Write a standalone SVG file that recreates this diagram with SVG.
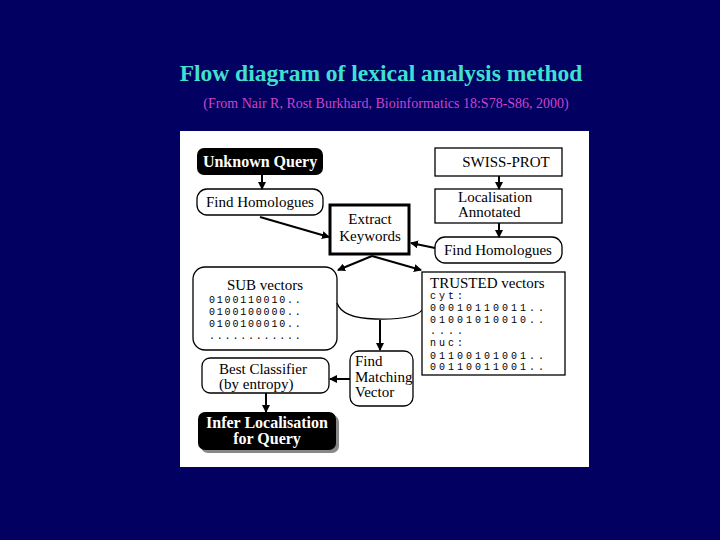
<svg xmlns="http://www.w3.org/2000/svg" width="720" height="540" viewBox="0 0 720 540">
<defs>
<marker id="ah" markerWidth="8" markerHeight="8" refX="7" refY="4" orient="auto" markerUnits="userSpaceOnUse"><path d="M0,0 L8,4 L0,8 z" fill="#000"/></marker>
<style>
.t{font-family:"Liberation Serif",serif;fill:#000;font-size:15px}
.w{font-family:"Liberation Serif",serif;fill:#fff;font-size:16px;font-weight:bold}
.m{font-family:"Liberation Mono",monospace;fill:#000;font-size:10px;letter-spacing:1.8px}
.n{font-family:"Liberation Mono",monospace;fill:#000;font-size:10px;letter-spacing:3px}
.b{fill:#fff;stroke:#000;stroke-width:1.3}
.c{stroke:#000;stroke-width:2;fill:none;marker-end:url(#ah)}
</style>
</defs>
<rect width="720" height="540" fill="#020060"/>
<text x="381" y="81" text-anchor="middle" font-family="Liberation Serif,serif" font-weight="bold" font-size="23.5" fill="#40e0d0">Flow diagram of lexical analysis method</text>
<text x="386" y="108" text-anchor="middle" font-family="Liberation Serif,serif" font-size="14" fill="#cc44cc">(From Nair R, Rost Burkhard, Bioinformatics 18:S78-S86, 2000)</text>
<rect x="180" y="131" width="409" height="336" fill="#fff"/>
<g id="unknown"><rect x="197" y="148" width="126" height="27" rx="7" fill="#000"/><text class="w" x="260" y="167" text-anchor="middle">Unknown Query</text></g>
<g id="fh1"><rect class="b" x="197" y="189" width="126" height="26" rx="10"/><text class="t" x="260" y="207" text-anchor="middle">Find Homologues</text></g>
<g id="extract"><rect x="330" y="205" width="79" height="49" fill="#fff" stroke="#000" stroke-width="3"/><text class="t" x="370" y="224" text-anchor="middle">Extract</text><text class="t" x="370" y="241" text-anchor="middle">Keywords</text></g>
<g id="swiss"><rect class="b" x="435" y="148" width="127" height="28"/><text class="t" x="506" y="167" text-anchor="middle">SWISS-PROT</text></g>
<g id="loc"><rect class="b" x="435" y="189" width="127" height="34"/><text class="t" x="458" y="202">Localisation</text><text class="t" x="458" y="217">Annotated</text></g>
<g id="fh2"><rect class="b" x="435" y="237" width="127" height="26" rx="10"/><text class="t" x="498" y="255" text-anchor="middle">Find Homologues</text></g>
<g id="sub"><rect class="b" x="193" y="267" width="144" height="83" rx="12"/><text class="t" x="265" y="290" text-anchor="middle">SUB vectors</text>
<text class="m" x="209" y="303">0100110010..</text><text class="m" x="209" y="315">0100100000..</text><text class="m" x="209" y="327">0100100010..</text><text class="m" x="209" y="339">............</text></g>
<g id="db"><path d="M337,303 Q342,318 375,319 Q415,320 422,310" class="b" fill="none"/></g>
<g id="trusted"><rect class="b" x="422" y="272" width="143" height="103"/><text class="t" x="430" y="288">TRUSTED vectors</text>
<text class="n" x="430" y="299">cyt:</text><text class="n" x="430" y="311">00010110011..</text><text class="n" x="430" y="323">01001010010..</text><text class="n" x="430" y="334">....</text><text class="n" x="430" y="346">nuc:</text><text class="n" x="430" y="359">01100101001..</text><text class="n" x="430" y="370">00110011001..</text></g>
<g id="fmv"><rect class="b" x="350" y="351" width="63" height="55" rx="9"/><text class="t" x="355" y="366">Find</text><text class="t" x="355" y="382">Matching</text><text class="t" x="355" y="397">Vector</text></g>
<g id="best"><rect class="b" x="202" y="358" width="127" height="35" rx="8"/><text class="t" x="219" y="374">Best Classifier</text><text class="t" x="219" y="389">(by entropy)</text></g>
<g id="infer"><rect x="201" y="415" width="138" height="38" rx="7" fill="#888"/><rect x="198" y="412" width="138" height="38" rx="7" fill="#000"/><text class="w" x="267" y="428" text-anchor="middle">Infer Localisation</text><text class="w" x="267" y="444" text-anchor="middle">for Query</text></g>
<g id="connectors">
<line class="c" x1="262" y1="175" x2="262" y2="189"/>
<line class="c" x1="260" y1="217" x2="329" y2="237"/>
<line class="c" x1="435" y1="248" x2="411" y2="243"/>
<line class="c" x1="499" y1="176" x2="499" y2="189"/>
<line class="c" x1="499" y1="223" x2="499" y2="237"/>
<line class="c" x1="372" y1="256" x2="338" y2="270"/>
<line class="c" x1="372" y1="256" x2="421" y2="270"/>
<line class="c" x1="380" y1="320" x2="380" y2="350"/>
<line class="c" x1="350" y1="379" x2="330" y2="379"/>
<line class="c" x1="266" y1="393" x2="266" y2="412"/>
</g>
</svg>
